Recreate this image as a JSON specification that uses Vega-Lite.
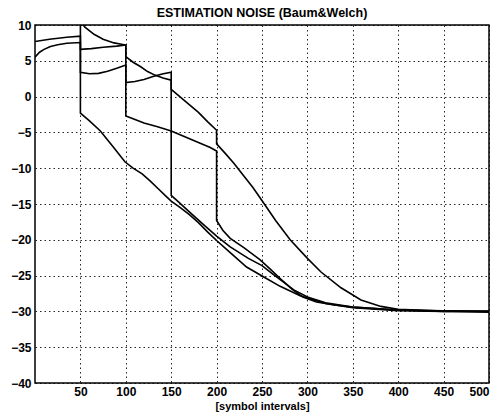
{
  "$schema": "https://vega.github.io/schema/vega-lite/v6.json",
  "width": 454,
  "height": 358,
  "autosize": "none",
  "padding": {"left": 35, "top": 25, "right": 10, "bottom": 33},
  "background": "white",
  "title": {"text": "ESTIMATION NOISE (Baum&Welch)", "font": "Liberation Sans", "fontSize": 12.5, "fontWeight": "bold", "color": "black", "offset": 0},
  "config": {
    "view": {"stroke": "black", "strokeWidth": 1.5},
    "axis": {"labelFont": "Liberation Sans", "labelFontSize": 12, "labelFontWeight": "bold", "labelColor": "black", "titleFont": "Liberation Sans", "titleFontSize": 11, "titleFontWeight": "bold", "titleColor": "black", "grid": true, "gridColor": "black", "gridDash": [1.5, 3], "gridWidth": 1, "gridOpacity": 0.85, "domain": false, "ticks": false}
  },
  "datasets": {
    "curves": [
      {"s":"a","i":0,"x":0,"y":5.5},{"s":"a","i":1,"x":5,"y":6.2},{"s":"a","i":2,"x":10,"y":6.6},{"s":"a","i":3,"x":17,"y":7.0},{"s":"a","i":4,"x":25,"y":7.25},{"s":"a","i":5,"x":35,"y":7.45},{"s":"a","i":6,"x":50,"y":7.55},{"s":"a","i":7,"x":50,"y":-2.3},{"s":"a","i":8,"x":60,"y":-3.4},{"s":"a","i":9,"x":72,"y":-4.8},{"s":"a","i":10,"x":86,"y":-7.0},{"s":"a","i":11,"x":99,"y":-9.1},{"s":"a","i":12,"x":108,"y":-10.0},{"s":"a","i":13,"x":118,"y":-10.8},{"s":"a","i":14,"x":127,"y":-11.8},{"s":"a","i":15,"x":136,"y":-12.9},{"s":"a","i":16,"x":145,"y":-14.0},{"s":"a","i":17,"x":150,"y":-14.6},{"s":"a","i":18,"x":160,"y":-15.5},{"s":"a","i":19,"x":170,"y":-16.5},{"s":"a","i":20,"x":180,"y":-17.6},{"s":"a","i":21,"x":190,"y":-18.9},{"s":"a","i":22,"x":200,"y":-20.1},{"s":"a","i":23,"x":215,"y":-21.8},{"s":"a","i":24,"x":233,"y":-23.8},{"s":"a","i":25,"x":252,"y":-25.2},{"s":"a","i":26,"x":270,"y":-26.5},{"s":"a","i":27,"x":292,"y":-27.8},{"s":"a","i":28,"x":320,"y":-28.9},{"s":"a","i":29,"x":350,"y":-29.5},{"s":"a","i":30,"x":400,"y":-29.9},{"s":"a","i":31,"x":450,"y":-30},{"s":"a","i":32,"x":500,"y":-30},
      {"s":"b","i":0,"x":0,"y":7.7},{"s":"b","i":1,"x":16,"y":8.0},{"s":"b","i":2,"x":35,"y":8.3},{"s":"b","i":3,"x":50,"y":8.45},{"s":"b","i":4,"x":50,"y":6.6},{"s":"b","i":5,"x":62,"y":6.7},{"s":"b","i":6,"x":75,"y":6.9},{"s":"b","i":7,"x":90,"y":7.05},{"s":"b","i":8,"x":100,"y":7.2},{"s":"b","i":9,"x":100,"y":-2.7},{"s":"b","i":10,"x":108,"y":-3.1},{"s":"b","i":11,"x":120,"y":-3.7},{"s":"b","i":12,"x":135,"y":-4.2},{"s":"b","i":13,"x":150,"y":-4.8},{"s":"b","i":14,"x":165,"y":-5.6},{"s":"b","i":15,"x":180,"y":-6.4},{"s":"b","i":16,"x":193,"y":-7.1},{"s":"b","i":17,"x":200,"y":-7.6},{"s":"b","i":18,"x":200,"y":-17.3},{"s":"b","i":19,"x":207,"y":-18.7},{"s":"b","i":20,"x":215,"y":-19.8},{"s":"b","i":21,"x":230,"y":-21.1},{"s":"b","i":22,"x":248,"y":-22.8},{"s":"b","i":23,"x":260,"y":-24.2},{"s":"b","i":24,"x":270,"y":-25.4},{"s":"b","i":25,"x":283,"y":-26.9},{"s":"b","i":26,"x":295,"y":-28.0},{"s":"b","i":27,"x":310,"y":-28.7},{"s":"b","i":28,"x":330,"y":-29.1},{"s":"b","i":29,"x":350,"y":-29.4},{"s":"b","i":30,"x":400,"y":-29.8},{"s":"b","i":31,"x":450,"y":-29.9},{"s":"b","i":32,"x":500,"y":-30},
      {"s":"c","i":0,"x":0,"y":11},{"s":"c","i":1,"x":50,"y":11},{"s":"c","i":2,"x":50,"y":3.4},{"s":"c","i":3,"x":60,"y":3.2},{"s":"c","i":4,"x":70,"y":3.25},{"s":"c","i":5,"x":80,"y":3.55},{"s":"c","i":6,"x":90,"y":3.95},{"s":"c","i":7,"x":100,"y":4.4},{"s":"c","i":8,"x":100,"y":1.95},{"s":"c","i":9,"x":110,"y":2.1},{"s":"c","i":10,"x":120,"y":2.4},{"s":"c","i":11,"x":130,"y":2.8},{"s":"c","i":12,"x":140,"y":3.15},{"s":"c","i":13,"x":150,"y":3.4},{"s":"c","i":14,"x":150,"y":-13.8},{"s":"c","i":15,"x":158,"y":-14.7},{"s":"c","i":16,"x":170,"y":-16.1},{"s":"c","i":17,"x":185,"y":-17.8},{"s":"c","i":18,"x":200,"y":-19.5},{"s":"c","i":19,"x":215,"y":-21.0},{"s":"c","i":20,"x":235,"y":-22.6},{"s":"c","i":21,"x":250,"y":-23.6},{"s":"c","i":22,"x":262,"y":-24.8},{"s":"c","i":23,"x":285,"y":-27.0},{"s":"c","i":24,"x":300,"y":-28.0},{"s":"c","i":25,"x":320,"y":-28.8},{"s":"c","i":26,"x":350,"y":-29.4},{"s":"c","i":27,"x":400,"y":-29.8},{"s":"c","i":28,"x":450,"y":-30},{"s":"c","i":29,"x":500,"y":-30},
      {"s":"d","i":0,"x":0,"y":12},{"s":"d","i":1,"x":50,"y":12},{"s":"d","i":2,"x":50,"y":10.5},{"s":"d","i":3,"x":55,"y":9.7},{"s":"d","i":4,"x":65,"y":8.7},{"s":"d","i":5,"x":75,"y":8.0},{"s":"d","i":6,"x":87,"y":7.5},{"s":"d","i":7,"x":100,"y":7.2},{"s":"d","i":8,"x":100,"y":5.6},{"s":"d","i":9,"x":108,"y":4.8},{"s":"d","i":10,"x":116,"y":4.2},{"s":"d","i":11,"x":124,"y":3.5},{"s":"d","i":12,"x":132,"y":3.0},{"s":"d","i":13,"x":141,"y":2.6},{"s":"d","i":14,"x":150,"y":2.3},{"s":"d","i":15,"x":150,"y":1.0},{"s":"d","i":16,"x":165,"y":-0.6},{"s":"d","i":17,"x":180,"y":-2.2},{"s":"d","i":18,"x":190,"y":-3.5},{"s":"d","i":19,"x":200,"y":-4.7},{"s":"d","i":20,"x":200,"y":-6.6},{"s":"d","i":21,"x":210,"y":-8.0},{"s":"d","i":22,"x":219,"y":-9.3},{"s":"d","i":23,"x":230,"y":-11.1},{"s":"d","i":24,"x":240,"y":-12.7},{"s":"d","i":25,"x":252,"y":-14.9},{"s":"d","i":26,"x":265,"y":-17.3},{"s":"d","i":27,"x":281,"y":-20.0},{"s":"d","i":28,"x":300,"y":-22.6},{"s":"d","i":29,"x":315,"y":-24.5},{"s":"d","i":30,"x":337,"y":-26.7},{"s":"d","i":31,"x":359,"y":-28.4},{"s":"d","i":32,"x":381,"y":-29.3},{"s":"d","i":33,"x":400,"y":-29.7},{"s":"d","i":34,"x":450,"y":-29.95},{"s":"d","i":35,"x":500,"y":-30.1}
    ]
  },
  "data": {"name": "curves"},
  "mark": {"type": "line", "color": "black", "strokeWidth": 1.6, "clip": true},
  "encoding": {
    "x": {"field": "x", "type": "quantitative", "scale": {"domain": [0, 500], "nice": false}, "axis": {"values": [50,100,150,200,250,300,350,400,450,500], "title": "[symbol intervals]", "labelPadding": 3, "titlePadding": 3}},
    "y": {"field": "y", "type": "quantitative", "scale": {"domain": [-40, 10], "nice": false}, "axis": {"values": [-40,-35,-30,-25,-20,-15,-10,-5,0,5,10], "title": null, "labelPadding": 4}},
    "detail": {"field": "s"},
    "order": {"field": "i"}
  }
}
